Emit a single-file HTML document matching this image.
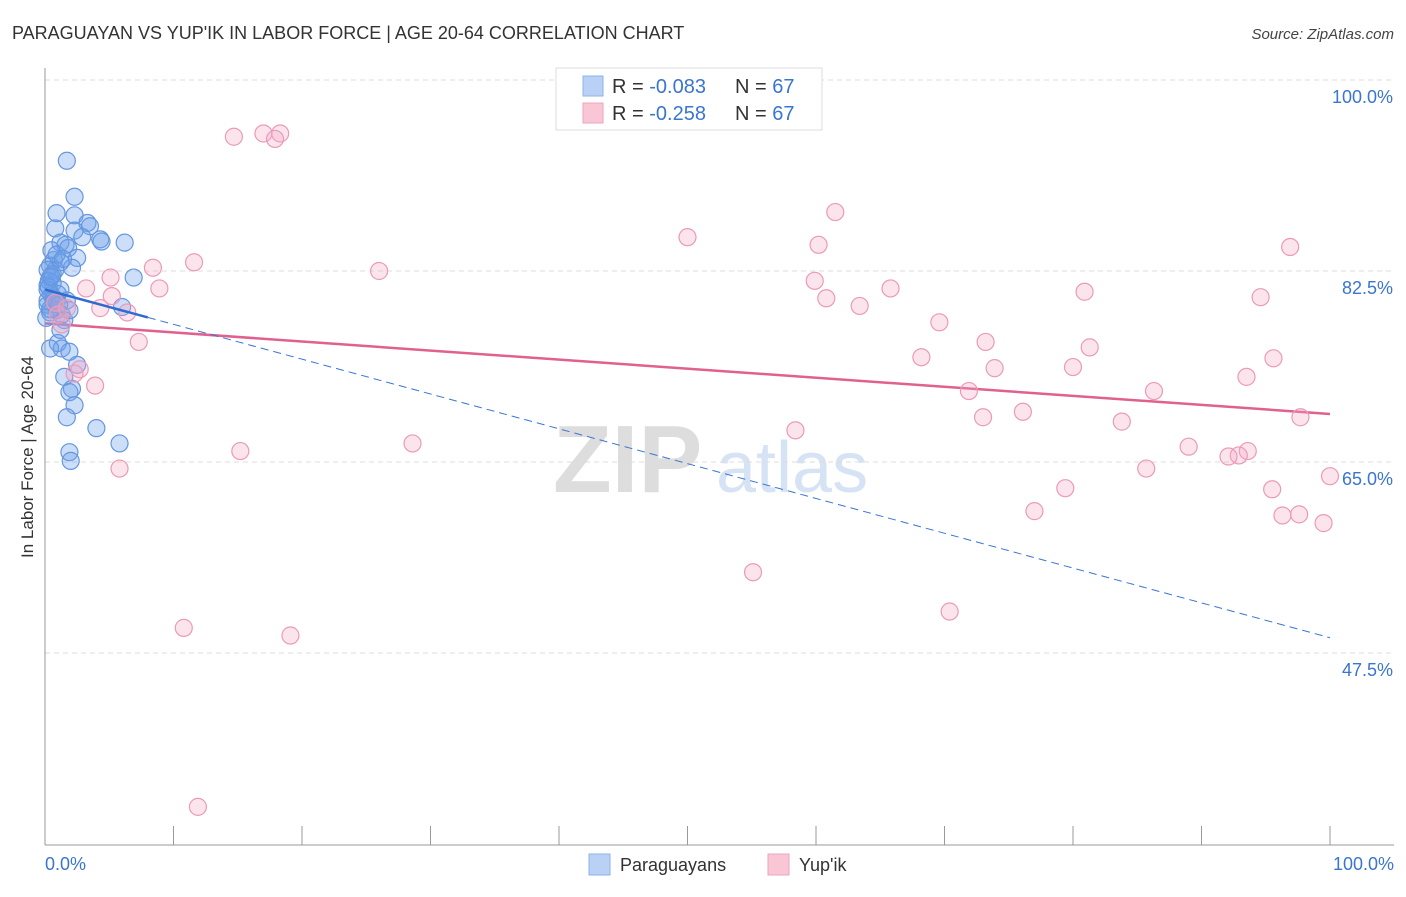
<!DOCTYPE html>
<html><head><meta charset="utf-8"><style>
body{margin:0;background:#fff;font-family:"Liberation Sans",sans-serif;}
svg text{font-family:"Liberation Sans",sans-serif;}
</style></head><body>
<svg id="chart" width="1406" height="892" viewBox="0 0 1406 892" xmlns="http://www.w3.org/2000/svg">
<text x="12" y="39" font-size="18" fill="#333">PARAGUAYAN VS YUP'IK IN LABOR FORCE | AGE 20-64 CORRELATION CHART</text>
<text x="1394" y="39" font-size="15" fill="#444" text-anchor="end" font-style="italic">Source: ZipAtlas.com</text>
<g>
<text x="553" y="492" font-size="96" fill="#ddd" font-family="Liberation Serif" font-weight="bold">ZIP</text>
<text x="716" y="492" font-size="72" fill="#d6e3f5">atlas</text>
</g>
<g id="grid"></g>
<g id="axes"></g>
<g id="trends"></g>
<g id="points"></g>
<text transform="translate(33,457) rotate(-90)" font-size="17" fill="#333" text-anchor="middle">In Labor Force | Age 20-64</text>
<g>
<rect x="556" y="68" width="266" height="62" fill="#fff" stroke="#ddd"/>
<rect x="583" y="76" width="20" height="20" fill="#b9d1f5" stroke="#8fb2ea"/>
<rect x="583" y="103" width="20" height="20" fill="#f9c6d6" stroke="#eea3bc"/>
<text x="612" y="93" font-size="20" fill="#333">R = <tspan fill="#3a75d0">-0.083</tspan></text>
<text x="735" y="93" font-size="20" fill="#333">N = <tspan fill="#3a75d0">67</tspan></text>
<text x="612" y="120" font-size="20" fill="#333">R = <tspan fill="#3a75d0">-0.258</tspan></text>
<text x="735" y="120" font-size="20" fill="#333">N = <tspan fill="#3a75d0">67</tspan></text>
</g>
<g>
<rect x="589" y="854" width="21" height="21" fill="#b9d1f5" stroke="#8fb2ea"/>
<text x="620" y="871" font-size="18" fill="#333">Paraguayans</text>
<rect x="768" y="854" width="21" height="21" fill="#f9c6d6" stroke="#eea3bc"/>
<text x="799" y="871" font-size="18" fill="#333">Yup'ik</text>
</g>
</svg>
<script>
const yTicks=[100,82.5,65,47.5];
const yTickLabels=["100.0%","82.5%","65.0%","47.5%"];
const xTickLabels=["0.0%","100.0%"];
const blueX=[1.7,2.3,0.9,2.3,3.3,3.5,0.8,2.3,1.2,1.6,2.9,4.3,4.4,6.2,1.8,2.5,0.7,1.2,0.4,2.1,0.8,6.9,0.4,0.6,0.2,0.5,0.2,0.9,1.7,0.2,6.0,0.9,0.4,1.3,1.5,1.0,1.3,0.4,1.9,2.5,1.5,2.1,1.9,2.3,1.7,4.0,5.8,1.9,2.0,0.2,0.5,0.1,1.2,0.9,0.2,1.2,0.8,1.9,0.3,0.6,1.0,0.4,1.4,0.7,0.3,1.1,0.5];
const blueY=[92.6,89.3,87.8,87.6,86.9,86.6,86.4,86.2,85.1,84.9,85.6,85.4,85.2,85.1,84.6,83.7,83.5,83.3,83.0,82.8,82.6,81.9,81.9,81.4,81.2,80.3,79.8,79.8,79.8,79.4,79.2,78.9,78.7,78.5,78.0,75.9,75.4,75.4,75.1,73.9,72.8,71.7,71.4,70.2,69.1,68.1,66.7,65.9,65.1,80.8,84.4,78.2,77.1,84.0,82.6,80.8,79.8,78.9,81.6,82.2,80.4,79.0,83.6,80.0,81.0,79.4,82.0];
const pinkX=[14.7,17.0,18.3,17.9,61.5,50.0,60.2,96.9,11.6,8.4,26.0,5.1,3.2,8.9,59.9,65.8,80.9,60.8,94.6,5.2,63.4,4.3,1.7,6.4,1.0,1.3,69.6,7.3,73.2,81.3,68.2,95.6,73.9,80.0,2.7,2.3,3.9,93.5,71.9,86.3,76.1,73.0,97.7,83.8,58.4,28.6,15.2,89.0,93.6,92.9,92.1,5.8,85.7,100.0,79.4,95.5,77.0,96.3,97.6,99.5,55.1,70.4,10.8,19.1,11.9,41.5,0.8];
const pinkY=[94.8,95.1,95.1,94.6,87.9,85.6,84.9,84.7,83.3,82.8,82.5,81.9,80.9,80.9,81.6,80.9,80.6,80.0,80.1,80.2,79.3,79.1,79.1,78.7,78.5,77.6,77.8,76.0,76.0,75.5,74.6,74.5,73.6,73.7,73.5,73.1,72.0,72.8,71.5,71.5,69.6,69.1,69.1,68.7,67.9,66.7,66.0,66.4,66.0,65.6,65.5,64.4,64.4,63.7,62.6,62.5,60.5,60.1,60.2,59.4,54.9,51.3,49.8,49.1,33.4,100.0,79.6];
const blueTrend=[80.8,48.9];
const pinkTrend=[77.7,69.4];
const blueSolidEnd=8;
const NS="http://www.w3.org/2000/svg";
const X=v=>45+v*12.85;
const Y=v=>80+(100-v)*10.914;
function mk(tag,attrs,parent){const e=document.createElementNS(NS,tag);for(const k in attrs)e.setAttribute(k,attrs[k]);parent.appendChild(e);return e;}
const grid=document.getElementById('grid'),axes=document.getElementById('axes'),trends=document.getElementById('trends'),pts=document.getElementById('points');
yTicks.forEach((t,i)=>{
 const l=mk('line',{x1:45,x2:1394,y1:Y(t),y2:Y(t),stroke:'#ddd','stroke-dasharray':'5,4'},grid);
 
 
 const tx=mk('text',{x:1393,y:Y(t)+23,'font-size':18,fill:'#3a75d0','text-anchor':'end'},axes);
 tx.textContent=yTickLabels[i];
 
 
});
const ya=mk('line',{x1:45,x2:45,y1:68,y2:845,stroke:'#999'},axes);


const xa=mk('line',{x1:45,x2:1394,y1:845,y2:845,stroke:'#999'},axes);


for(let i=0;i<=10;i++){
 const t=mk('line',{x1:X(i*10),x2:X(i*10),y1:826,y2:845,stroke:'#999'},axes);
 
 
}
[[0,'start',45],[100,'end',1394]].forEach((d,i)=>{
 const tx=mk('text',{x:d[2],y:870,'font-size':18,fill:'#3a75d0','text-anchor':d[1]},axes);
 tx.textContent=xTickLabels[i];
 
 
});
const bt=v=>blueTrend[0]+(blueTrend[1]-blueTrend[0])*v/100;
const pt=v=>pinkTrend[0]+(pinkTrend[1]-pinkTrend[0])*v/100;
blueX.forEach((x,i)=>{
 const c=mk('circle',{cx:X(x),cy:Y(blueY[i]),r:8.5,fill:'rgba(110,160,235,0.35)',stroke:'#6597e0','stroke-width':1.2},pts);
 
 
});
pinkX.forEach((x,i)=>{
 const c=mk('circle',{cx:X(x),cy:Y(pinkY[i]),r:8.5,fill:'rgba(245,165,195,0.3)',stroke:'#eb9ab7','stroke-width':1.2},pts);
 
 
});
const l1=mk('line',{x1:X(0),y1:Y(pt(0)),x2:X(100),y2:Y(pt(100)),stroke:'#e0608e','stroke-width':2.5},trends);


const l2=mk('line',{x1:X(blueSolidEnd),y1:Y(bt(blueSolidEnd)),x2:X(100),y2:Y(bt(100)),stroke:'#3a75d0','stroke-width':1,'stroke-dasharray':'8,5'},trends);


const l3=mk('line',{x1:X(0),y1:Y(bt(0)),x2:X(blueSolidEnd),y2:Y(bt(blueSolidEnd)),stroke:'#2f6bd0','stroke-width':2.5},pts);


</script>
</body></html>
